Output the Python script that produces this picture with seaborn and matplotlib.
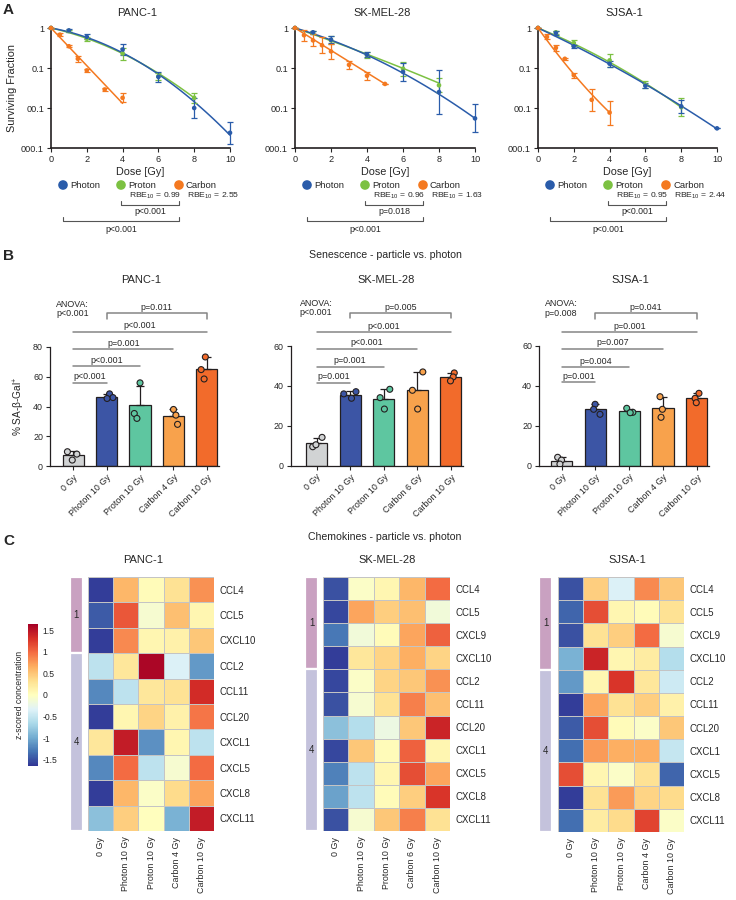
import numpy as np
import pandas as pd
import seaborn as sns
import matplotlib.pyplot as plt
from matplotlib.ticker import NullLocator

sns.set_theme(style="ticks")
plt.rcParams['font.family'] = ['Liberation Sans', 'DejaVu Sans']
plt.rcParams['mathtext.default'] = 'regular'
plt.rcParams['axes.linewidth'] = 0.9
plt.rcParams['axes.edgecolor'] = '#231f20'

W, H = 736, 900

# ---------------- panel A: clonogenic survival ----------------
photon_doses = [0, 1, 2, 4, 6, 8, 10]
proton_doses = [0, 1, 2, 4, 6, 8]
carbon_doses = [0, 0.5, 1, 1.5, 2, 3, 4]
sk_carbon_doses = [0, 0.5, 1, 1.5, 2, 3, 4, 5]

panc_photon_sf = [1, 0.87, 0.6, 0.29, 0.06, 0.01, 0.0024]
panc_photon_err = [0, 0.03, 0.06, 0.13, 0.12, 0.25, 0.28]
panc_proton_sf = [1, 0.85, 0.54, 0.23, 0.062, 0.018]
panc_proton_err = [0, 0.03, 0.05, 0.15, 0.08, 0.12]
panc_carbon_sf = [1, 0.68, 0.35, 0.17, 0.087, 0.029, 0.018]
panc_carbon_err = [0, 0.03, 0.03, 0.08, 0.03, 0.04, 0.11]

sk_photon_sf = [1, 0.78, 0.51, 0.215, 0.08, 0.025, 0.0055]
sk_photon_err = [0, 0.03, 0.08, 0.06, 0.22, 0.55, 0.35]
sk_proton_sf = [1, 0.76, 0.49, 0.21, 0.096, 0.037]
sk_proton_err = [0, 0.04, 0.1, 0.07, 0.18, 0.18]
sk_carbon_sf = [1, 0.66, 0.49, 0.37, 0.26, 0.12, 0.064, 0.04]
sk_carbon_err = [0, 0.14, 0.15, 0.2, 0.19, 0.1, 0.1, 0]

sj_photon_sf = [1, 0.75, 0.35, 0.128, 0.036, 0.011, 0.0031]
sj_photon_err = [0, 0.05, 0.04, 0.08, 0.06, 0.17, 0]
sj_proton_sf = [1, 0.78, 0.42, 0.155, 0.038, 0.0105]
sj_proton_err = [0, 0.03, 0.07, 0.17, 0.09, 0.22]
sj_carbon_sf = [1, 0.6, 0.32, 0.17, 0.066, 0.016, 0.0077]
sj_carbon_err = [0, 0.06, 0.07, 0.02, 0.06, 0.27, 0.3]

# linear-quadratic fit parameters (alpha, beta, max dose)
panc_fits = {'Photon': (0.185, 0.0432, 10), 'Proton': (0.2325, 0.03375, 8), 'Carbon': (1.085, 0.0, 4)}
sk_fits = {'Photon': (0.303, 0.0217, 10), 'Proton': (0.359, 0.0047, 8), 'Carbon': (0.644, 0.0, 5)}
sj_fits = {'Photon': (0.479, 0.0102, 10), 'Proton': (0.415, 0.0194, 8), 'Carbon': (1.44, -0.056, 4)}

rbe_values = {'PANC-1': ('0.99', '2.55'), 'SK-MEL-28': ('0.96', '1.63'), 'SJSA-1': ('0.95', '2.44')}
surv_pvals = {'PANC-1': ('p<0.001', 'p<0.001'), 'SK-MEL-28': ('p=0.018', 'p<0.001'),
              'SJSA-1': ('p<0.001', 'p<0.001')}

rad_colors = {'Photon': '#2a5caa', 'Proton': '#7cc142', 'Carbon': '#f47920'}

# ---------------- panel B: senescence ----------------
bar_colors = ['#d1d3d4', '#3c55a5', '#5ec6a0', '#f8a24c', '#f26b2b']
panc_groups = ['0 Gy', 'Photon 10 Gy', 'Proton 10 Gy', 'Carbon 4 Gy', 'Carbon 10 Gy']
sk_groups = ['0 Gy', 'Photon 10 Gy', 'Proton 10 Gy', 'Carbon 6 Gy', 'Carbon 10 Gy']
sj_groups = ['0 Gy', 'Photon 10 Gy', 'Proton 10 Gy', 'Carbon 4 Gy', 'Carbon 10 Gy']

panc_sa = [[9.6, 8.0, 4.0], [48.5, 46.0, 45.4], [55.9, 35.3, 32.0], [38.0, 34.2, 28.0], [73.3, 64.8, 58.5]]
sk_sa = [[14.2, 9.5, 10.5], [37.1, 36.0, 33.8], [38.3, 34.1, 28.4], [47.0, 37.8, 28.4], [46.5, 44.5, 42.5]]
sj_sa = [[4.2, 2.8, 0.8], [30.7, 28.2, 25.7], [26.7, 28.7, 26.5], [34.5, 28.2, 24.2], [36.2, 33.7, 31.5]]

panc_lines = [(1, 55.7, 'p<0.001'), (2, 67.0, 'p<0.001'), (3, 78.5, 'p=0.001'), (4, 90.0, 'p<0.001')]
sk_lines = [(1, 41.6, 'p=0.001'), (2, 49.6, 'p=0.001'), (3, 58.5, 'p<0.001'), (4, 66.9, 'p<0.001')]
sj_lines = [(1, 41.7, 'p=0.001'), (2, 49.2, 'p=0.004'), (3, 58.3, 'p=0.007'), (4, 66.7, 'p=0.001')]
panc_bracket = (102.6, 3.6, 'p=0.011')
sk_bracket = (76.4, 2.5, 'p=0.005')
sj_bracket = (76.2, 2.7, 'p=0.041')
anova_text = {'PANC-1': 'ANOVA:\np<0.001', 'SK-MEL-28': 'ANOVA:\np<0.001', 'SJSA-1': 'ANOVA:\np=0.008'}

# ---------------- panel C: chemokines ----------------
heat_cols = ['0 Gy', 'Photon 10 Gy', 'Proton 10 Gy', 'Carbon 4 Gy', 'Carbon 10 Gy']
sk_heat_cols = ['0 Gy', 'Photon 10 Gy', 'Proton 10 Gy', 'Carbon 6 Gy', 'Carbon 10 Gy']
panc_rows = ['CCL4', 'CCL5', 'CXCL10', 'CCL2', 'CCL11', 'CCL20', 'CXCL1', 'CXCL5', 'CXCL8', 'CXCL11']
other_rows = ['CCL4', 'CCL5', 'CXCL9', 'CXCL10', 'CCL2', 'CCL11', 'CCL20', 'CXCL1', 'CXCL5', 'CXCL8', 'CXCL11']

panc_z = [[-1.6, 0.6, 0.05, 0.3, 0.8],
          [-1.45, 1.1, -0.1, 0.55, 0.1],
          [-1.6, 0.85, 0.1, 0.15, 0.5],
          [-0.55, 0.25, 1.6, -0.35, -1.1],
          [-1.2, -0.55, 0.25, 0.3, 1.35],
          [-1.6, 0.1, 0.4, 0.15, 0.95],
          [0.25, 1.45, -1.15, 0.1, -0.55],
          [-1.2, 1.0, -0.55, -0.1, 1.0],
          [-1.6, 0.6, -0.05, 0.35, 0.7],
          [-0.85, 0.45, 0.0, -0.95, 1.45]]
sk_z = [[-1.5, -0.05, 0.1, 0.6, 1.0],
        [-1.55, 0.7, 0.45, 0.55, -0.15],
        [-1.3, -0.15, 0.05, 0.7, 1.05],
        [-1.6, 0.25, 0.4, 0.65, 0.4],
        [-1.55, -0.05, 0.4, 0.5, 0.8],
        [-1.5, -0.1, 0.3, 0.9, 0.55],
        [-0.85, -0.6, -0.2, 0.5, 1.4],
        [-1.55, 0.5, 0.05, 1.05, 0.1],
        [-1.25, -0.55, 0.1, 1.15, 0.7],
        [-1.05, -0.55, 0.05, 0.45, 1.3],
        [-1.5, -0.1, 0.5, 0.9, 0.3]]
sj_z = [[-1.5, 0.45, -0.35, 0.85, 0.5],
        [-1.4, 1.15, 0.1, 0.05, 0.3],
        [-1.5, 0.3, 0.45, 1.0, -0.1],
        [-0.95, 1.4, 0.1, 0.2, -0.6],
        [-1.1, 0.1, 1.3, 0.25, -0.45],
        [-1.6, 0.7, 0.3, 0.45, 0.15],
        [-1.45, 1.15, 0.05, -0.05, 0.5],
        [-1.35, 0.75, 0.65, 0.65, -0.5],
        [1.15, 0.1, -0.05, 0.3, -1.4],
        [-1.6, 0.3, 0.75, 0.4, 0.35],
        [-1.35, 0.2, 0.35, 1.2, -0.05]]
panc_top = 3
other_top = 4

fig = plt.figure(figsize=(W / 100, H / 100), dpi=100)


def px_axes(x0, y0, x1, y1):
    return fig.add_axes([x0 / W, 1 - y1 / H, (x1 - x0) / W, (y1 - y0) / H])


ov = fig.add_axes([0, 0, 1, 1])
ov.set_xlim(0, W)
ov.set_ylim(H, 0)
ov.axis('off')


def survival_panel(ax, title, series, fits, ylabel):
    ax.set_yscale('log')
    for name in ['Proton', 'Photon', 'Carbon']:
        a, b, dmax = fits[name]
        d = np.linspace(0, dmax, 80)
        sns.lineplot(x=d, y=np.exp(-(a * d + b * d ** 2)), color=rad_colors[name], lw=1.1, ax=ax)
    for name in ['Proton', 'Photon', 'Carbon']:
        dose, sf, err = series[name]
        sf = np.asarray(sf, float)
        err = np.asarray(err, float)
        lo = sf - sf / 10 ** err
        hi = sf * 10 ** err - sf
        ax.errorbar(dose, sf, yerr=[lo, hi], fmt='none', ecolor=rad_colors[name],
                    elinewidth=0.9, capsize=2.2, capthick=0.9, clip_on=False, zorder=3)
        sns.scatterplot(x=dose, y=sf, color=rad_colors[name], s=11, edgecolor='none',
                        ax=ax, clip_on=False, zorder=4)
    ax.set_xlim(0, 10)
    ax.set_ylim(0.001, 1)
    ax.set_xticks([0, 2, 4, 6, 8, 10])
    ax.set_yticks([1, 0.1, 0.01, 0.001])
    ax.set_yticklabels(['1', '0.1', '00.1', '000.1'])
    ax.yaxis.set_minor_locator(NullLocator())
    ax.tick_params(labelsize=6.6, length=3, width=0.8, pad=2)
    ax.set_xlabel('Dose [Gy]', fontsize=7.8, labelpad=2)
    ax.set_ylabel('Surviving Fraction' if ylabel else '', fontsize=7.8, labelpad=3)
    for s in ['top', 'right']:
        ax.spines[s].set_visible(False)
    for s in ['left', 'bottom']:
        ax.spines[s].set_linewidth(1.2)


surv_layout = [('PANC-1', (51, 230), {'Photon': (photon_doses, panc_photon_sf, panc_photon_err),
                                      'Proton': (proton_doses, panc_proton_sf, panc_proton_err),
                                      'Carbon': (carbon_doses, panc_carbon_sf, panc_carbon_err)}, panc_fits),
               ('SK-MEL-28', (295, 475), {'Photon': (photon_doses, sk_photon_sf, sk_photon_err),
                                          'Proton': (proton_doses, sk_proton_sf, sk_proton_err),
                                          'Carbon': (sk_carbon_doses, sk_carbon_sf, sk_carbon_err)}, sk_fits),
               ('SJSA-1', (538, 717), {'Photon': (photon_doses, sj_photon_sf, sj_photon_err),
                                       'Proton': (proton_doses, sj_proton_sf, sj_proton_err),
                                       'Carbon': (carbon_doses, sj_carbon_sf, sj_carbon_err)}, sj_fits)]

for i, (title, (x0, x1), series, fits) in enumerate(surv_layout):
    ax = px_axes(x0, 28, x1, 148)
    survival_panel(ax, title, series, fits, i == 0)
    ov.text((x0 + x1) / 2 - 3, 13, title, ha='center', va='center', fontsize=8)
    mk = [x0 + 12, x0 + 70, x0 + 128]
    for m, name in zip(mk, ['Photon', 'Proton', 'Carbon']):
        ov.scatter([m], [185], s=48, color=rad_colors[name], edgecolor='none')
        ov.text(m + 7, 185, name, ha='left', va='center', fontsize=6.8)
    ov.text(mk[1] + 8, 196, 'RBE$_{10}$ = ' + rbe_values[title][0], ha='left', va='center', fontsize=6.1)
    ov.text(mk[2] + 8, 196, 'RBE$_{10}$ = ' + rbe_values[title][1], ha='left', va='center', fontsize=6.1)
    ov.plot([mk[1], mk[1], mk[2], mk[2]], [200.5, 204.5, 204.5, 200.5], color='#555555', lw=0.8)
    ov.text((mk[1] + mk[2]) / 2, 212, surv_pvals[title][0], ha='center', va='center', fontsize=6.3)
    ov.plot([mk[0], mk[0], mk[2], mk[2]], [216.5, 220.5, 220.5, 216.5], color='#555555', lw=0.8)
    ov.text((mk[0] + mk[2]) / 2, 229, surv_pvals[title][1], ha='center', va='center', fontsize=6.3)

ov.text(3, 10, 'A', ha='left', va='center', fontsize=11, fontweight='bold')

# ---------------- panel B ----------------
np.random.seed(7)


def bar_panel(ax, labels, reps, lines, bracket, anova, anova_y, ylabel, ymax):
    groups = np.repeat(labels, 3)
    vals = np.concatenate(reps)
    df = pd.DataFrame({'group': groups, 'value': vals})
    pal = dict(zip(labels, bar_colors))
    sns.barplot(data=df, x='group', y='value', hue='group', palette=pal, errorbar=None,
                saturation=1, width=0.63, edgecolor='#231f20', linewidth=0.9, ax=ax,
                legend=False, zorder=2)
    stats = df.groupby('group', sort=False)['value']
    means = stats.mean().values
    sds = stats.std().values
    ax.errorbar(np.arange(len(labels)), means, yerr=[np.zeros(len(labels)), sds], fmt='none',
                ecolor='#231f20', elinewidth=0.9, capsize=3, capthick=0.9, zorder=3)
    sns.stripplot(data=df, x='group', y='value', hue='group', palette=pal, jitter=0.2, size=4.3,
                  linewidth=0.8, edgecolor='#231f20', ax=ax, legend=False, zorder=4)
    for end, h, t in lines:
        ax.plot([0, end], [h, h], color='#858585', lw=1.1, clip_on=False)
        ax.annotate(t, xy=(end / 2, h), xytext=(0, 1.2), textcoords='offset points',
                    ha='center', va='bottom', fontsize=6.4, annotation_clip=False)
    h, drop, t = bracket
    ax.plot([1, 1, 4, 4], [h - drop, h, h, h - drop], color='#858585', lw=1.1, clip_on=False)
    ax.annotate(t, xy=(2.5, h), xytext=(0, 1.2), textcoords='offset points',
                ha='center', va='bottom', fontsize=6.4, annotation_clip=False)
    ax.text(ax.get_xlim()[0], anova_y, anova, ha='left', va='center', fontsize=6.4, linespacing=1.0)
    ax.set_ylim(0, ymax)
    ax.set_yticks(np.arange(0, ymax + 1, 20))
    ax.set_xlabel('')
    ax.set_ylabel('% SA-β-Gal$^{+}$' if ylabel else '', fontsize=7.3, labelpad=4)
    ax.tick_params(labelsize=6.4, length=3, width=0.8, pad=2)
    ax.set_xticks(range(len(labels)))
    ax.set_xticklabels(labels, rotation=45, ha='right', rotation_mode='anchor')
    sns.despine(ax=ax)


bar_layout = [('PANC-1', (50, 347, 219, 466), (-0.69, 4.36), panc_groups, panc_sa, panc_lines, panc_bracket, 105.7, 80),
              ('SK-MEL-28', (290.7, 346, 463, 465.7), (-0.77, 4.36), sk_groups, sk_sa, sk_lines, sk_bracket, 78.8, 60),
              ('SJSA-1', (539, 345.7, 709, 465.7), (-0.67, 4.36), sj_groups, sj_sa, sj_lines, sj_bracket, 78.6, 60)]

for i, (title, box, xl, labels, reps, lines, bracket, ay, ymax) in enumerate(bar_layout):
    ax = px_axes(*box)
    ax.set_xlim(*xl)
    bar_panel(ax, labels, reps, lines, bracket, anova_text[title], ay, i == 0, ymax)
    ax.set_xlim(*xl)

ov.text(3, 256, 'B', ha='left', va='center', fontsize=11, fontweight='bold')
ov.text(385, 255, 'Senescence - particle vs. photon', ha='center', va='center', fontsize=7.6)
for t, x in [('PANC-1', 141), ('SK-MEL-28', 386), ('SJSA-1', 630)]:
    ov.text(x, 280, t, ha='center', va='center', fontsize=8)

# ---------------- panel C ----------------
group_colors = ['#c9a1c1', '#c4c2dc']


def heat_panel(ax, ax_ann, rows, cols, z, n_top, cbar_ax=None):
    df = pd.DataFrame(z, index=rows, columns=cols)
    sns.heatmap(df, ax=ax, cmap='RdYlBu_r', vmin=-1.65, vmax=1.65, linewidths=0.6,
                linecolor='#c4c4c4', cbar=cbar_ax is not None, cbar_ax=cbar_ax,
                xticklabels=True, yticklabels=True)
    ax.yaxis.tick_right()
    ax.set_yticklabels(rows, rotation=0, fontsize=6.9)
    ax.set_xticklabels(cols, rotation=90, fontsize=6.4)
    ax.tick_params(axis='both', length=0, pad=4)
    ax.set_xlabel('')
    ax.set_ylabel('')
    n = len(rows)
    ax_ann.barh([n_top / 2, n_top + (n - n_top) / 2], 1, height=[n_top, n - n_top],
                color=group_colors, edgecolor='white', linewidth=1.6)
    ax_ann.set_ylim(n, 0)
    ax_ann.set_xlim(0, 1)
    ax_ann.axis('off')
    ax_ann.text(0.5, n_top / 2, '1', ha='center', va='center', fontsize=6.9)
    ax_ann.text(0.5, n_top + (n - n_top) / 2, '4', ha='center', va='center', fontsize=6.9)


cax = px_axes(28, 624, 38, 766)
heat_layout = [((88, 577, 214, 831), (70, 577, 83, 831), panc_rows, heat_cols, panc_z, panc_top, cax),
               ((323, 577, 450, 831), (305, 577, 318, 831), other_rows, sk_heat_cols, sk_z, other_top, None),
               ((558, 577, 684, 832), (539, 577, 552, 832), other_rows, heat_cols, sj_z, other_top, None)]

for hbox, abox, rows, cols, z, n_top, cb in heat_layout:
    ax = px_axes(*hbox)
    ax_ann = px_axes(*abox)
    heat_panel(ax, ax_ann, rows, cols, z, n_top, cb)

cax.set_yticks([-1.5, -1, -0.5, 0, 0.5, 1, 1.5])
cax.set_yticklabels(['-1.5', '-1', '-0.5', '0', '0.5', '1', '1.5'])
cax.tick_params(labelsize=6.2, length=0, pad=3)
cax.yaxis.set_label_position('left')
cax.set_ylabel('z-scored concentration', fontsize=6.2, labelpad=3)
for s in cax.spines.values():
    s.set_visible(False)

ov.text(3, 541, 'C', ha='left', va='center', fontsize=11, fontweight='bold')
ov.text(385, 537, 'Chemokines - particle vs. photon', ha='center', va='center', fontsize=7.6)
for t, x in [('PANC-1', 143), ('SK-MEL-28', 387), ('SJSA-1', 627)]:
    ov.text(x, 560, t, ha='center', va='center', fontsize=8)

fig.savefig('out.png', dpi=100)
